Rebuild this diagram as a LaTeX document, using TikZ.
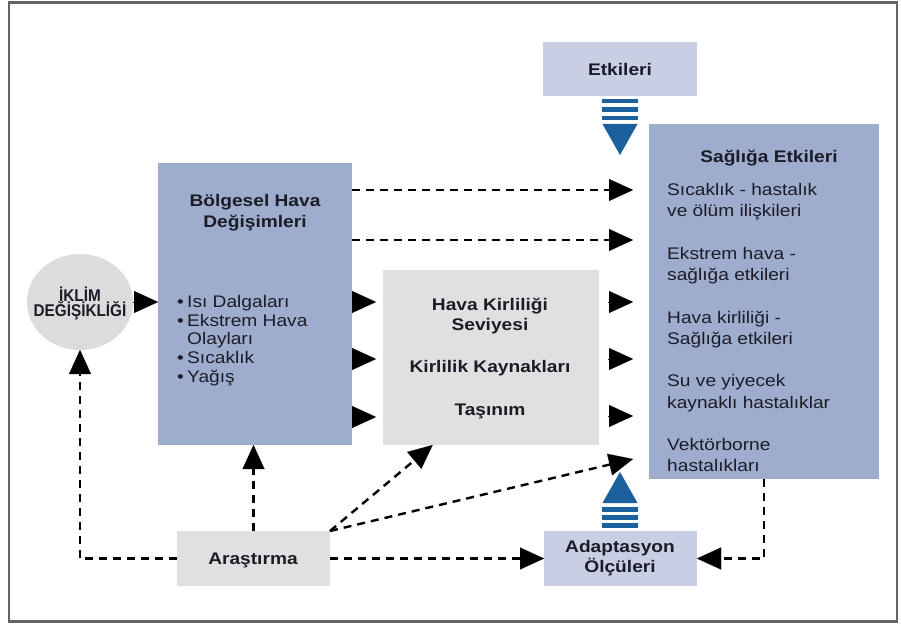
\documentclass[tikz,border=0pt]{standalone}
\usepackage{fontspec}
\setmainfont{Liberation Sans}[FakeStretch=1.14]
\newfontfamily\narrowfont{Liberation Sans}[FakeStretch=0.9]
\usetikzlibrary{arrows.meta,shapes.geometric,calc}
\definecolor{boxblue}{RGB}{158,173,205}
\definecolor{boxlav}{RGB}{200,206,228}
\definecolor{boxgray}{RGB}{224,224,224}
\definecolor{circgray}{RGB}{220,220,220}
\definecolor{arrowblue}{RGB}{28,96,158}
\definecolor{txt}{RGB}{28,28,40}
\definecolor{framegray}{RGB}{100,100,100}
\begin{document}
\begin{tikzpicture}[x=1pt,y=-1pt,
  font=\fontsize{16.8}{21}\selectfont,
  box/.style={anchor=north west, inner sep=0pt, outer sep=0pt, draw=none},
  lbl/.style={anchor=base, inner sep=0pt, text=txt},
  lblw/.style={anchor=base west, inner sep=0pt, text=txt},
  bf/.style={font=\fontsize{16.8}{21}\selectfont\bfseries},
  tri/.style={line width=0.4pt, -{Triangle[length=24pt,width=22pt,line width=0.01pt]}},
  dashline/.style={line width=2.4pt, dash pattern=on 8pt off 6pt, -{Triangle[length=24pt,width=22pt,line width=0.01pt]}},
]
\useasboundingbox (0,0) rectangle (901,628);
\draw[framegray, line width=2.2pt] (9,2.5) rectangle (897,621.5);

% boxes
\node[box, fill=boxlav, minimum width=154pt, minimum height=54pt] (etk) at (543,42) {};
\node[box, fill=boxblue, minimum width=230pt, minimum height=355pt] (sag) at (649,124) {};
\node[box, fill=boxblue, minimum width=194pt, minimum height=282pt] (bol) at (158,163) {};
\node[box, fill=boxgray, minimum width=216pt, minimum height=175pt] (hava) at (383,270) {};
\node[box, fill=boxgray, minimum width=153pt, minimum height=55pt] (ara) at (177,531) {};
\node[box, fill=boxlav, minimum width=153pt, minimum height=55pt] (ada) at (544,531) {};
\node[ellipse, fill=circgray, minimum width=106pt, minimum height=96pt, inner sep=0pt, outer sep=0pt] (iklim) at (80,302) {};

% texts
\node[lbl,bf] (etkt) at (620,76) {Etkileri};
\node[lbl,bf] (sagt) at (769,163) {Sağlığa Etkileri};
\node[lblw] (s1) at (667,195.5) {Sıcaklık - hastalık};
\node[lblw] (s2) at (667,216.75) {ve ölüm ilişkileri};
\node[lblw] (s3) at (667,259.25) {Ekstrem hava -};
\node[lblw] (s4) at (667,280.5) {sağlığa etkileri};
\node[lblw] (s5) at (667,323) {Hava kirliliği -};
\node[lblw] (s6) at (667,344.25) {Sağlığa etkileri};
\node[lblw] (s7) at (667,386.75) {Su ve yiyecek};
\node[lblw] (s8) at (667,408) {kaynaklı hastalıklar};
\node[lblw] (s9) at (667,450.5) {Vektörborne};
\node[lblw] (s10) at (667,471.75) {hastalıkları};

\node[lbl,bf] (bolt1) at (255,207) {Bölgesel Hava};
\node[lbl,bf] (bolt2) at (255,227) {Değişimleri};
\node[lblw] (b1) at (177,307) {\makebox[10pt][l]{•}Isı Dalgaları};
\node[lblw] (b2) at (177,326) {\makebox[10pt][l]{•}Ekstrem Hava};
\node[lblw] (b3) at (187,344.5) {Olayları};
\node[lblw] (b4) at (177,363) {\makebox[10pt][l]{•}Sıcaklık};
\node[lblw] (b5) at (177,382) {\makebox[10pt][l]{•}Yağış};

\node[lbl,bf] (h1) at (490,310) {Hava Kirliliği};
\node[lbl,bf] (h2) at (490,330) {Seviyesi};
\node[lbl,bf] (h3) at (490,372) {Kirlilik Kaynakları};
\node[lbl,bf] (h4) at (490,415) {Taşınım};

\node[lbl, font=\narrowfont\fontsize{17}{17}\selectfont\bfseries] (ik1) at (80,301) {İKLİM};
\node[lbl, font=\narrowfont\fontsize{17}{17}\selectfont\bfseries] (ik2) at (80,316.5) {DEĞİŞİKLİĞİ};

\node[lbl,bf] (arat) at (253,564) {Araştırma};
\node[lbl,bf] (adat1) at (620,552) {Adaptasyon};
\node[lbl,bf] (adat2) at (620,572) {Ölçüleri};

% solid triangle arrows
\draw[tri] (iklim.east) -- (bol.west |- iklim.east);
\foreach \yy in {302,359,417}
  \draw[tri, shorten >=7pt] (bol.east |- 0,\yy) -- (hava.west |- 0,\yy);
\foreach \yy in {302,359,416}
  \draw[tri, shorten <=9pt, shorten >=16pt] (hava.east |- 0,\yy) -- (sag.west |- 0,\yy);

% dashed arrows
\draw[dashline, shorten >=16pt] (bol.east |- 0,190) -- (sag.west |- 0,190);
\draw[dashline, shorten >=16pt] (bol.east |- 0,240) -- (sag.west |- 0,240);
\coordinate (hb) at ($(hava.south west)!0.23!(hava.south east)$);
\coordinate (sx) at (633,459);
\draw[dashline] (ara.north east) -- (hb);
\draw[dashline] (ara.north east) -- (sx);
\draw[dashline] (ara.north) -- (bol.south -| ara.north);
\draw[dashline] (ara.west) -| (iklim.south);
\draw[dashline] (ara.east) -- (ada.west);
\draw[dashline] (sag.south) |- (ada.east);

% blue striped arrows
\foreach \dy in {3,11.5,20}
  \fill[arrowblue] ($(etk.south)+(-18,\dy)$) rectangle ++(36,4.5);
\fill[arrowblue] ($(etk.south)+(-17.5,28)$) -- ++(35,0) -- ($(etk.south)+(0,59)$) -- cycle;
\foreach \dy in {-24,-16,-8}
  \fill[arrowblue] ($(ada.north)+(-18.5,\dy)$) rectangle ++(36,4.5);
\fill[arrowblue] ($(ada.north)+(-18,-28)$) -- ++(35,0) -- ($(ada.north)+(-0.5,-59)$) -- cycle;
\end{tikzpicture}
\end{document}
